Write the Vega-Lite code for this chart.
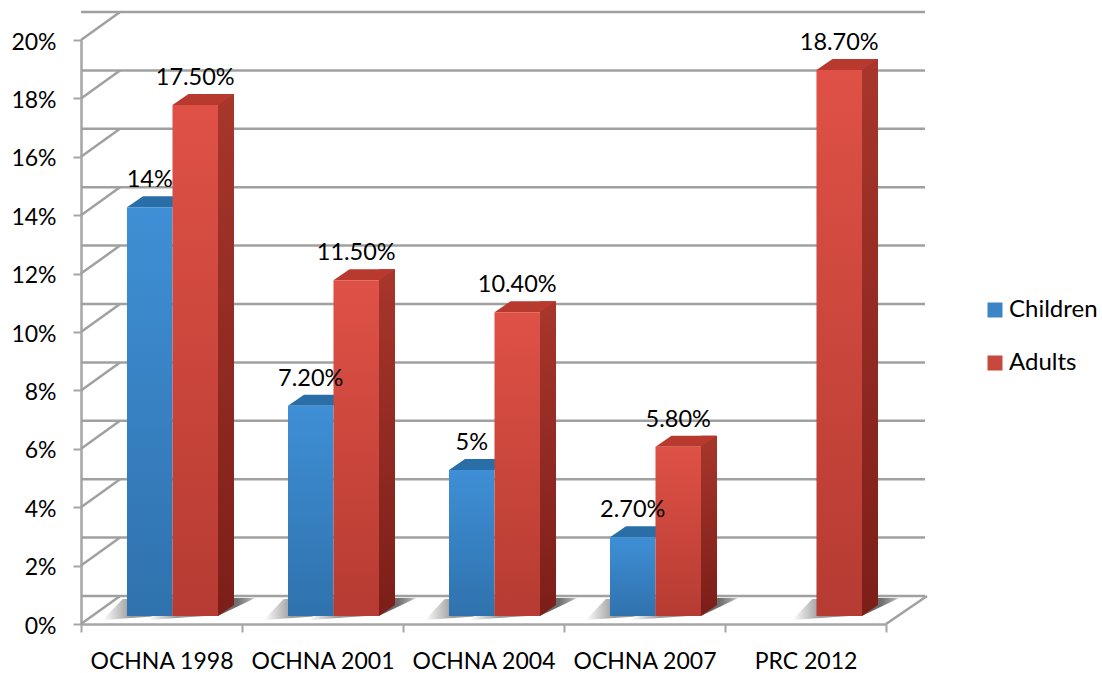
{
"$schema":"https://vega.github.io/schema/vega-lite/v6.json",
"width":805,"height":584,"autosize":"none",
"padding":{"left":81,"top":40,"right":216,"bottom":49},
"background":"white",
"config":{"view":{"stroke":null},"font":"Lato"},
"data":{"values":[
{"category":"OCHNA 1998","series":"Children","value":14,"label":"14%"},
{"category":"OCHNA 2001","series":"Children","value":7.2,"label":"7.20%"},
{"category":"OCHNA 2004","series":"Children","value":5,"label":"5%"},
{"category":"OCHNA 2007","series":"Children","value":2.7,"label":"2.70%"},
{"category":"OCHNA 1998","series":"Adults","value":17.5,"label":"17.50%"},
{"category":"OCHNA 2001","series":"Adults","value":11.5,"label":"11.50%"},
{"category":"OCHNA 2004","series":"Adults","value":10.4,"label":"10.40%"},
{"category":"OCHNA 2007","series":"Adults","value":5.8,"label":"5.80%"},
{"category":"PRC 2012","series":"Adults","value":18.7,"label":"18.70%"}
]},
"encoding":{
"x":{"field":"category","type":"nominal","sort":null,"title":null,
 "scale":{"domain":["OCHNA 1998","OCHNA 2001","OCHNA 2004","OCHNA 2007","PRC 2012"],"paddingInner":0,"paddingOuter":0},
 "axis":{"labelAngle":0,"labelFontSize":23,"labelColor":"#000000","labelPadding":18,"tickBand":"extent","tickSize":8,"tickColor":"#a6a6a6","tickWidth":2,"domainColor":"#a6a6a6","domainWidth":2.5,"grid":false}},
"xOffset":{"field":"series","type":"nominal","scale":{"domain":["Children","Adults"],"paddingInner":0,"paddingOuter":0.769,"align":0.657}},
"y":{"field":"value","type":"quantitative","stack":null,"title":null,
 "scale":{"domain":[0,20],"nice":false},
 "axis":{"values":[0,2,4,6,8,10,12,14,16,18,20],"labelExpr":"datum.value + '%'","labelFontSize":23,"labelColor":"#000000","labelPadding":17,"labelOffset":2,"tickSize":8,"tickColor":"#a6a6a6","tickWidth":2,"domainColor":"#a6a6a6","domainWidth":2.5,"grid":false}}
},
"layer":[
{"data":{"values":[{"level":0},{"level":2},{"level":4},{"level":6},{"level":8},{"level":10},{"level":12},{"level":14},{"level":16},{"level":18},{"level":20}]},
 "mark":{"type":"rule","stroke":"#a0a0a0","strokeWidth":2.5,"xOffset":39,"x2Offset":43,"yOffset":-28},
 "encoding":{"x":null,"xOffset":null,"y":{"field":"level","type":"quantitative"}}},
{"data":{"values":[{"level":0},{"level":2},{"level":4},{"level":6},{"level":8},{"level":10},{"level":12},{"level":14},{"level":16},{"level":18},{"level":20}]},
 "mark":{"type":"point","filled":false,"opacity":1,"stroke":"#a0a0a0","strokeWidth":2.5,"size":40000,"shape":"M0 0 L.39 -.28"},
 "encoding":{"x":{"datum":"OCHNA 1998","bandPosition":0},"xOffset":null,"y":{"field":"level","type":"quantitative"}}},
{"data":{"values":[{"level":0}]},
 "mark":{"type":"point","filled":false,"opacity":1,"stroke":"#a0a0a0","strokeWidth":2.5,"size":40000,"shape":"M0 0 L.41 -.28"},
 "encoding":{"x":{"datum":"PRC 2012","bandPosition":1},"xOffset":null,"y":{"field":"level","type":"quantitative"}}},
{"mark":{"type":"point","filled":true,"opacity":1,"size":40000,"yOffset":-8,"shape":"M-.47 .04 L-.27 -.17 L.1 -.17 L.1 0 Z",
  "fill":{"gradient":"linear","x1":0,"y1":0,"x2":1,"y2":0,"stops":[{"offset":0,"color":"#ffffff"},{"offset":0.5,"color":"#9a9a9a"},{"offset":1,"color":"#8c8c8c"}]}},
 "encoding":{"y":{"datum":0}}},
{"transform":[{"filter":"datum.series==='Adults'"}],
 "mark":{"type":"point","filled":true,"opacity":1,"size":40000,"yOffset":-8,"shape":"M.2 0 L.2 -.18 L.6 -.18 L.225 0 Z",
  "fill":{"gradient":"linear","x1":0,"y1":0,"x2":1,"y2":0,"stops":[{"offset":0,"color":"#606060"},{"offset":0.55,"color":"#707070"},{"offset":0.85,"color":"#a4a4a4"},{"offset":1,"color":"#dcdcdc"}]}},
 "encoding":{"y":{"datum":0}}},
{"transform":[{"filter":"datum.series==='Children'"}],"layer":[
 {"mark":{"type":"point","filled":true,"opacity":1,"size":40000,"yOffset":-8,"fill":"#2a6ea8","shape":"M-.2275 0 L.2275 0 L.3875 -.11 L-.0675 -.11 Z"}},
 {"mark":{"type":"bar","yOffset":-8,"y2Offset":-8,"fill":{"gradient":"linear","x1":0,"y1":0,"x2":0,"y2":1,"stops":[{"offset":0,"color":"#3f8fd6"},{"offset":1,"color":"#2f72ad"}]}},"encoding":{"y2":{"datum":0}}}
]},
{"transform":[{"filter":"datum.series==='Adults'"}],"layer":[
 {"mark":{"type":"bar","width":16,"xOffset":64.5,"yOffset":-19,"y2Offset":-19,"fill":{"gradient":"linear","x1":0,"y1":0,"x2":0,"y2":1,"stops":[{"offset":0,"color":"#a8362b"},{"offset":1,"color":"#7d1f19"}]}},"encoding":{"xOffset":null,"y2":{"datum":0}}},
 {"mark":{"type":"point","filled":true,"opacity":1,"size":40000,"yOffset":-8,"fill":"#7d1f19","shape":"M.2275 0 L.3875 -.11 L.2275 -.11 Z"},"encoding":{"y":{"datum":0}}},
 {"mark":{"type":"point","filled":true,"opacity":1,"size":40000,"yOffset":-8,"fill":"#b83a2e","shape":"M-.2275 0 L.2275 0 L.3875 -.11 L-.0675 -.11 Z"}},
 {"mark":{"type":"bar","yOffset":-8,"y2Offset":-8,"fill":{"gradient":"linear","x1":0,"y1":0,"x2":0,"y2":1,"stops":[{"offset":0,"color":"#df5146"},{"offset":1,"color":"#b63b32"}]}},"encoding":{"y2":{"datum":0}}}
]},
{"mark":{"type":"text","fontSize":23.5,"color":"#000000","baseline":"middle","yOffset":-35},
 "encoding":{"text":{"field":"label"}}},
{"mark":{"type":"point","filled":true,"shape":"square","size":225,"opacity":0},
 "encoding":{"color":{"field":"series","type":"nominal","title":null,
  "scale":{"domain":["Children","Adults"],"range":["#3b84c6","#c8483d"]},
  "legend":{"orient":"none","legendX":902,"legendY":258,"symbolType":"square","symbolSize":225,"symbolOpacity":1,"labelFontSize":24,"labelColor":"#000000","labelOffset":2,"rowPadding":29,"padding":0}}}}
]
}
